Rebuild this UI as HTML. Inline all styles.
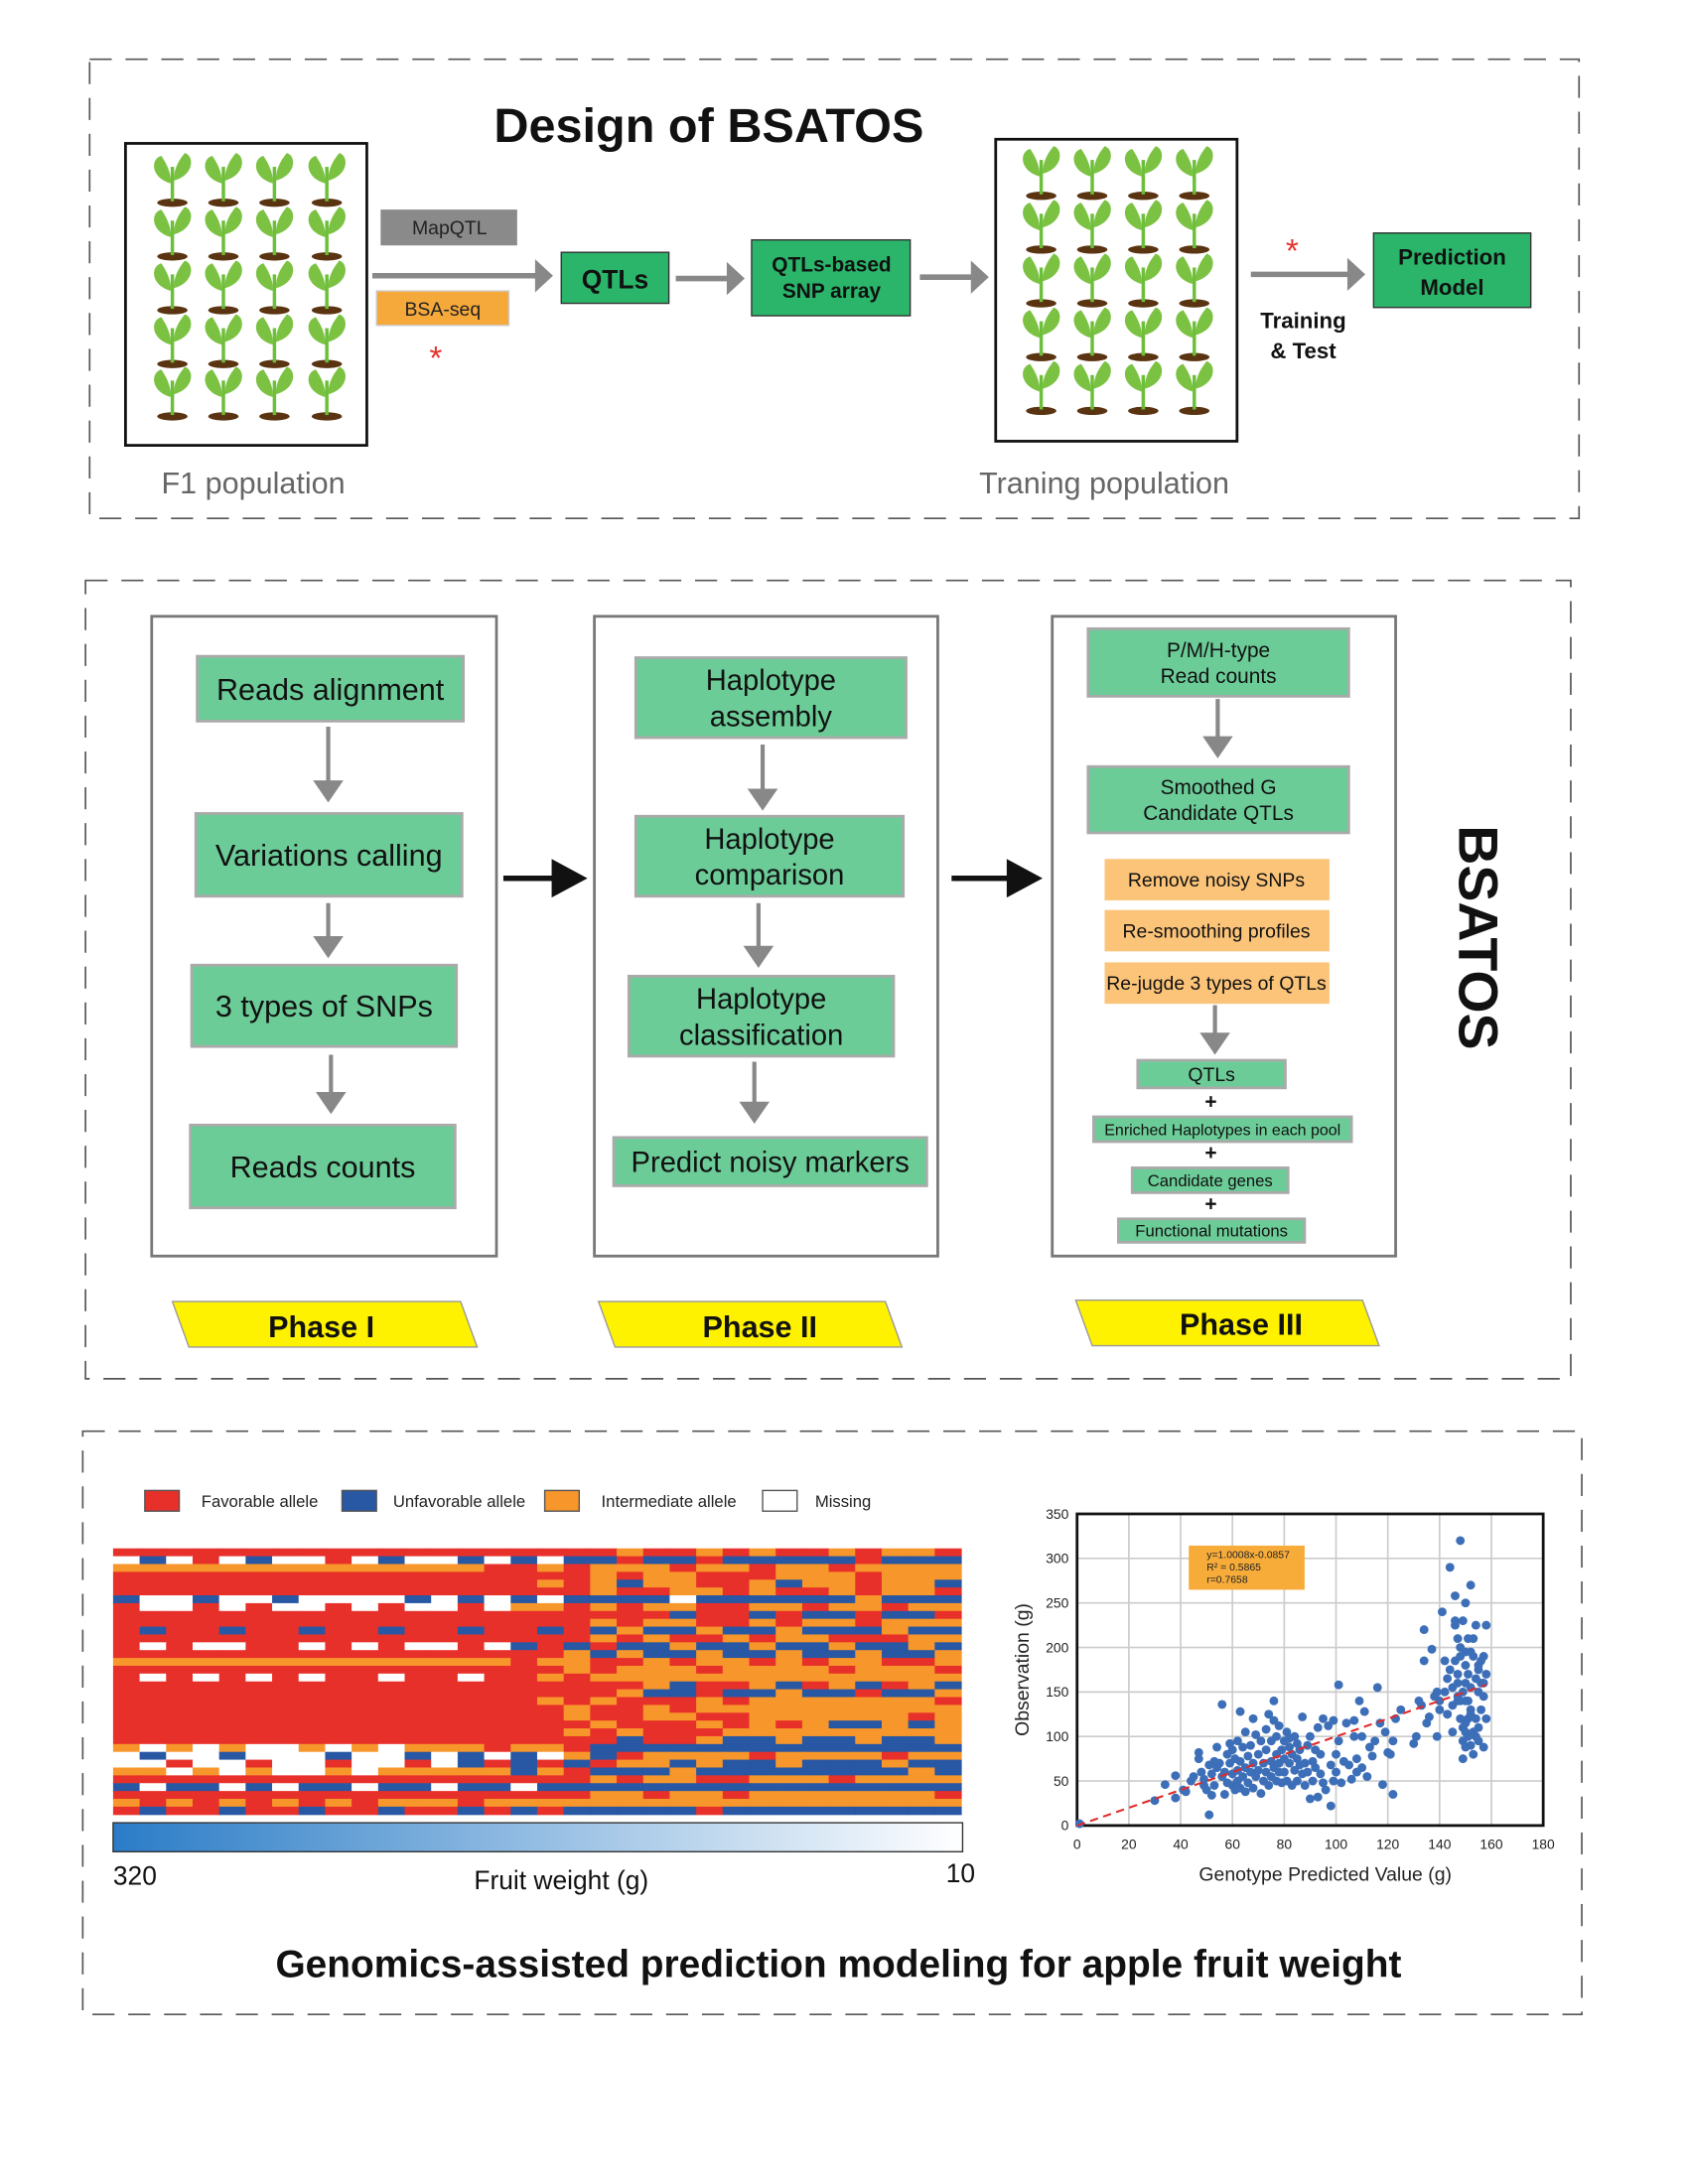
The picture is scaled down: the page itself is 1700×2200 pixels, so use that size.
<!DOCTYPE html>
<html><head><meta charset="utf-8"><style>
html,body{margin:0;padding:0;background:#fff;}
svg{display:block;font-family:"Liberation Sans",Arial,sans-serif;}
</style></head><body>
<svg id="root" width="1700" height="2200" viewBox="0 0 1224 1584" preserveAspectRatio="none">
<rect width="1224" height="1584" fill="#fff"/>
<g id="top">
<rect x="65" y="43" width="1080" height="333" fill="none" stroke="#555" stroke-width="1.2" stroke-dasharray="16,10"/>
<text x="514" y="103" text-anchor="middle" font-size="35" font-weight="bold" fill="#111">Design of BSATOS</text>
<rect x="91" y="104" width="175" height="219" fill="#fff" stroke="#111" stroke-width="2"/>
<rect x="722" y="101" width="175" height="219" fill="#fff" stroke="#111" stroke-width="2"/>
<g id="plants"></g>
<text x="117" y="358" font-size="22" fill="#666">F1 population</text>
<text x="710" y="358" font-size="22" fill="#666">Traning population</text>
<rect x="276" y="152" width="99" height="26" fill="#8a8a8a"/>
<text x="326" y="170" text-anchor="middle" font-size="14" fill="#222">MapQTL</text>
<rect x="273" y="211" width="96" height="25" fill="#f6a93b" stroke="#ccc"/>
<text x="321" y="229" text-anchor="middle" font-size="14" fill="#222">BSA-seq</text>
<text x="316" y="268" text-anchor="middle" font-size="24" fill="#e8302a">*</text>
<g fill="#888" stroke="#888">
<line x1="270" y1="200" x2="392" y2="200" stroke-width="4"/><polygon points="388,188 401,200 388,212" stroke="none"/>
<line x1="490" y1="202" x2="530" y2="202" stroke-width="4"/><polygon points="527,190 540,202 527,214" stroke="none"/>
<line x1="667" y1="201" x2="707" y2="201" stroke-width="4"/><polygon points="704,189 717,201 704,213" stroke="none"/>
<line x1="907" y1="199" x2="980" y2="199" stroke-width="4"/><polygon points="977,187 990,199 977,211" stroke="none"/>
</g>
<rect x="407" y="183" width="78" height="37" fill="#2ab56a" stroke="#333"/>
<text x="446" y="209" text-anchor="middle" font-size="19" font-weight="bold" fill="#111">QTLs</text>
<rect x="545" y="174" width="115" height="55" fill="#2ab56a" stroke="#333"/>
<text x="603" y="197" text-anchor="middle" font-size="15" font-weight="bold" fill="#111">QTLs-based</text>
<text x="603" y="216" text-anchor="middle" font-size="15" font-weight="bold" fill="#111">SNP array</text>
<text x="937" y="190" text-anchor="middle" font-size="24" fill="#e8302a">*</text>
<rect x="996" y="169" width="114" height="54" fill="#2ab56a" stroke="#333"/>
<text x="1053" y="192" text-anchor="middle" font-size="16" font-weight="bold" fill="#111">Prediction</text>
<text x="1053" y="214" text-anchor="middle" font-size="16" font-weight="bold" fill="#111">Model</text>
<text x="945" y="238" text-anchor="middle" font-size="16" font-weight="bold" fill="#111">Training</text>
<text x="945" y="260" text-anchor="middle" font-size="16" font-weight="bold" fill="#111">&amp; Test</text>
</g>

<g id="mid">
<rect x="62" y="421" width="1077" height="579" fill="none" stroke="#555" stroke-width="1.2" stroke-dasharray="16,10"/>
<rect x="110" y="447" width="250" height="464" fill="none" stroke="#777" stroke-width="2"/>
<rect x="431" y="447" width="249" height="464" fill="none" stroke="#777" stroke-width="2"/>
<rect x="763" y="447" width="249" height="464" fill="none" stroke="#777" stroke-width="2"/>
<g id="midboxes"></g>
<g fill="#111">
<line x1="365" y1="637" x2="410" y2="637" stroke="#111" stroke-width="4"/><polygon points="400,623 426,637 400,651"/>
<line x1="690" y1="637" x2="740" y2="637" stroke="#111" stroke-width="4"/><polygon points="730,623 756,637 730,651"/>
</g>
<text transform="translate(1058,680) rotate(90)" text-anchor="middle" font-size="40" font-weight="bold" fill="#111">BSATOS</text>
<polygon points="125,944 334,944 346,977 137,977" fill="#fff200" stroke="#999"/>
<text x="233" y="970" text-anchor="middle" font-size="22" font-weight="bold" fill="#111">Phase I</text>
<polygon points="434,944 642,944 654,977 446,977" fill="#fff200" stroke="#999"/>
<text x="551" y="970" text-anchor="middle" font-size="22" font-weight="bold" fill="#111">Phase II</text>
<polygon points="780,943 988,943 1000,976 792,976" fill="#fff200" stroke="#999"/>
<text x="900" y="968" text-anchor="middle" font-size="22" font-weight="bold" fill="#111">Phase III</text>
</g>

<g id="bot">
<rect x="60" y="1038" width="1087" height="423" fill="none" stroke="#555" stroke-width="1.2" stroke-dasharray="16,10"/>
<g font-size="12" fill="#222">
<rect x="105" y="1081" width="25" height="15" fill="#e8302a" stroke="#555"/>
<text x="146" y="1093">Favorable allele</text>
<rect x="248" y="1081" width="25" height="15" fill="#2857a4" stroke="#555"/>
<text x="285" y="1093">Unfavorable allele</text>
<rect x="395" y="1081" width="25" height="15" fill="#f7962a" stroke="#555"/>
<text x="436" y="1093">Intermediate allele</text>
<rect x="553" y="1081" width="25" height="15" fill="#fff" stroke="#555"/>
<text x="591" y="1093">Missing</text>
</g>
<g id="heat"></g>
<defs><linearGradient id="fw" x1="0" x2="1"><stop offset="0" stop-color="#2a7cc7"/><stop offset="1" stop-color="#fff"/></linearGradient></defs>
<rect x="82" y="1322" width="616" height="21" fill="url(#fw)" stroke="#333"/>
<text x="82" y="1367" font-size="19" fill="#111">320</text>
<text x="407" y="1370" text-anchor="middle" font-size="19" fill="#111">Fruit weight (g)</text>
<text x="686" y="1365" font-size="19" fill="#111">10</text>
<g id="scatter"></g>
<text x="608" y="1434" text-anchor="middle" font-size="28" font-weight="bold" fill="#111">Genomics-assisted prediction modeling for apple fruit weight</text>
</g>
</svg>
<script>
// ---- scatter data ----
const xTicks=[0,20,40,60,80,100,120,140,160,180];
const yTicks=[0,50,100,150,200,250,300,350];
const obsX=[1,30,34,38,38,41,42,44,45,47,47,48,49,49,50,51,51,52,52,53,53,54,54,55,56,56,57,57,58,58,59,59,60,60,60,61,61,62,62,62,63,63,63,64,64,65,65,65,66,66,67,67,68,68,68,69,69,70,70,71,71,72,72,73,73,73,74,74,75,75,75,76,76,76,77,77,77,78,78,78,79,79,80,80,80,81,81,82,82,82,83,83,84,84,85,85,85,86,86,87,87,88,88,89,89,90,90,91,91,92,92,93,93,94,94,95,95,96,97,98,98,99,99,100,100,101,101,102,103,104,105,106,107,107,108,108,109,110,110,111,112,113,114,115,116,117,118,119,120,121,122,122,123,125,130,131,132,134,134,135,136,137,138,139,140,140,141,142,142,143,143,144,144,145,145,146,146,146,147,147,147,147,148,148,148,148,148,149,149,149,149,149,150,150,150,150,150,150,151,151,151,151,151,152,152,152,152,152,153,153,153,153,154,154,154,154,155,155,155,155,156,156,156,157,157,157,158,158,158,147,152,143,146,145,150,139,150,133,155,157];
const obsY=[2,28,46,31,56,40,38,50,55,82,75,60,52,45,40,12,68,58,34,72,45,88,65,70,55,136,35,60,80,48,70,92,58,45,85,75,40,62,50,95,128,72,42,88,55,65,105,38,78,48,90,60,120,70,42,102,55,80,62,95,36,70,50,85,60,108,125,45,72,95,55,118,65,140,80,50,100,70,112,60,85,48,75,95,60,105,50,88,70,98,80,45,62,100,75,50,92,68,85,58,122,70,45,90,60,30,100,72,50,85,65,32,110,58,80,48,120,40,112,68,22,118,50,80,60,95,158,48,72,115,68,52,100,118,75,60,140,65,100,128,55,88,78,95,155,115,46,105,82,80,95,35,120,130,92,100,140,185,220,115,122,198,145,150,140,130,240,185,150,165,125,175,290,105,135,185,258,225,145,170,210,160,320,190,140,120,200,95,75,230,150,110,180,88,160,140,195,250,120,100,210,170,140,125,90,270,155,130,105,190,80,210,165,120,100,225,150,175,110,95,185,130,160,190,145,88,225,170,120,140,195,125,230,155,105,100,115,135,180,160,205,165,110,145,175];
const sx=v=>781+v/180*338, sy=v=>1324-v/350*226;
// ---- heatmap data ----
const heatRows=[
"rrrrrrrrrrrrrrrrrrrorrororroroor","wbwrwbwwrwbwwbwbwbbrbbrbbbbbrbbb","oooooooooooooorroroooroorooroooo",
"rrrrrrrrrrrrrrrrrroroorrrooorooo","rrrrrrrrrrrrrrrroroboorrobooroob","rrrrrrrrrrrrrrrrrrorroororroroor",
"bwwbwwbwwwwbwbwbwbbbbwbbbbbbobbb","rwwrwrwwrwrwwrwoororoorroorooroo","rrrrrrrrrrrrrrrrrrrrrbrrbrbbrbbr",
"rrrrrrrrrrrrrrrrrroroorroroorooo","rbrrbrrbrrbrrbrrbrbobbobbobbbobb","rrrrrrrrrrrrrrrrrrororroroorrroo",
"rwrwwrrwrwrwwrwbrbrbbobbobbobbob","rrrrrrrrrrrrrrrrrobobbobbobbobbo","oooooooooooooooroorroroororoorro",
"rrrrrrrrrrrrrrrrroroooroooorooor","rwrwrwrwrrwrrwrroroooooooooooooo","rrrrrrrrrrrrrrrrrrrrobrrobrobrob",
"rrrrrrrrrrrrrrrrrrrobbrbbobbrbbo","rrrrrrrrrrrrrrrrororrrorooooooor","rrrrrrrrrrrrrrrrrorroroooooooooo",
"rrrrrrrrrrrrrrrrrorroorrooooooro","rrrrrrrrrrrrrrrrrrorrrororobbobo","rrrrrrrrrrrrrrrrrororrrooooooooo",
"rrrrrrrrrrrrrrrrrrrbrrobbobbobbo","owowowwowowoooroorbbbbbbbbbbbbbb","wbwwbwwwbwwbwbwbwobroooorooooroo",
"wwrwwrwwrwwrwbrbrbroobobbobbbobb","oowowowwowoooooborbbbobbbbbbbbob","rrrrrrrrrrrrrrrrrroroorroooroooo",
"bwbbwbwbbwbbwbbwbbbbbbbbbbbbbbbb","rrrrrrrrrrrrrrrrrrooroorooooooor","orororororoooroooooooooooooooooo",
"rbrrbrrbrrbrrbrbrbbbbbrbbbbbbbbb"];
const heatColors={r:"#e8302a",b:"#2857a4",o:"#f7962a",w:"#ffffff"};
const NS="http://www.w3.org/2000/svg";
function mk(tag,attrs,parent){const e=document.createElementNS(NS,tag);for(const k in attrs)e.setAttribute(k,attrs[k]);parent.appendChild(e);return e;}

// plants
const plants=document.getElementById('plants');
function plant(x,y){
  const g=mk('g',{},plants);
  
  
  mk('ellipse',{cx:x,cy:y,rx:11,ry:3,fill:'#5a3311'},g);
  mk('line',{x1:x,y1:y-1,x2:x,y2:y-26,stroke:'#6cbf3a','stroke-width':2.5},g);
  mk('path',{d:`M${x-1},${y-14} C${x-16},${y-18} ${x-16},${y-32} ${x-8},${y-34} C${x-4},${y-28} ${x-1},${y-22} ${x-1},${y-14}Z`,fill:'#7cc242'},g);
  mk('path',{d:`M${x+1},${y-16} C${x+16},${y-20} ${x+16},${y-34} ${x+9},${y-36} C${x+4},${y-30} ${x+1},${y-24} ${x+1},${y-16}Z`,fill:'#7cc242'},g);
}
[125,162,199,237].forEach(x=>[147,186,225,264,302].forEach(y=>plant(x,y)));
[755,792,829,866].forEach(x=>[142,181,220,259,298].forEach(y=>plant(x,y)));

// pipeline boxes
const mb=document.getElementById('midboxes');
const greenBoxes=[
 [143,476,193,47,["Reads alignment"],22],[142,590,193,60,["Variations calling"],22],[139,700,192,59,["3 types of SNPs"],22],[138,816,192,60,["Reads counts"],22],
 [461,477,196,58,["Haplotype","assembly"],21],[461,592,194,58,["Haplotype","comparison"],21],[456,708,192,58,["Haplotype","classification"],21],[445,825,227,35,["Predict noisy markers"],21],
 [789,456,189,49,["P/M/H-type","Read counts"],15],[789,556,189,48,["Smoothed G","Candidate QTLs"],15],
 [825,769,107,20,["QTLs"],14],[793,810,187,18,["Enriched Haplotypes in each pool"],11.5],[821,847,113,18,["Candidate genes"],12],[811,884,135,17,["Functional mutations"],12]];
greenBoxes.forEach(b=>{
  const r=mk('rect',{x:b[0],y:b[1],width:b[2],height:b[3],fill:'#6ccc98',stroke:'#aaa','stroke-width':2},mb);
  
  
  const n=b[4].length, lh=b[5]*1.25, cy=b[1]+b[3]/2;
  b[4].forEach((t,i)=>{const tx=mk('text',{x:b[0]+b[2]/2,y:cy+(i-(n-1)/2)*lh+b[5]*0.36,'text-anchor':'middle','font-size':b[5],fill:'#111'},mb);tx.textContent=t;
    
    });
});
[[801,623,"Remove noisy SNPs"],[801,660,"Re-smoothing profiles"],[801,698,"Re-jugde 3 types of QTLs"]].forEach(b=>{
  const r=mk('rect',{x:b[0],y:b[1],width:163,height:30,fill:'#fbc479'},mb);
  
  
  const t=mk('text',{x:b[0]+81,y:b[1]+20,'text-anchor':'middle','font-size':14,fill:'#111'},mb);t.textContent=b[2];
  
  
});
[[238,527,582],[238,655,695],[240,765,808],[553,540,588],[550,655,702],[547,770,815],[883,507,550],[881,729,765]].forEach(a=>{
  const g=mk('g',{},mb);
  
  
  mk('line',{x1:a[0],y1:a[1],x2:a[0],y2:a[2]-10,stroke:'#888','stroke-width':3},g);
  mk('polygon',{points:`${a[0]-11},${a[2]-16} ${a[0]+11},${a[2]-16} ${a[0]},${a[2]}`,fill:'#888'},g);
});
[799,836,873].forEach(y=>{const t=mk('text',{x:878,y:y+5,'text-anchor':'middle','font-size':15,'font-weight':'bold',fill:'#111'},mb);t.textContent='+';
  
  });

// heatmap
const heat=document.getElementById('heat');
const hx=82,hy=1123,hw=615,hh=193,cols=heatRows[0].length,rows=heatRows.length;
heatRows.forEach((row,ri)=>{[...row].forEach((c,ci)=>{
  const r=mk('rect',{x:(hx+ci*hw/cols).toFixed(2),y:(hy+ri*hh/rows).toFixed(2),width:(hw/cols+0.4).toFixed(2),height:(hh/rows+0.4).toFixed(2),fill:heatColors[c]},heat);
  
  
});});

// scatter
const sc=document.getElementById('scatter');
yTicks.forEach(v=>{const l=mk('line',{x1:781,x2:1119,y1:sy(v),y2:sy(v),stroke:'#ccc','stroke-width':1.2},sc);
  
  const t=mk('text',{x:775,y:sy(v)+3.5,'text-anchor':'end','font-size':10,fill:'#222'},sc);t.textContent=v;
  });
xTicks.forEach(v=>{const l=mk('line',{x1:sx(v),x2:sx(v),y1:1098,y2:1324,stroke:'#ccc','stroke-width':1.2},sc);
  
  const t=mk('text',{x:sx(v),y:1341,'text-anchor':'middle','font-size':10,fill:'#222'},sc);t.textContent=v;
  });
const fr=mk('rect',{x:781,y:1098,width:338,height:226,fill:'none',stroke:'#111','stroke-width':2},sc);

obsX.forEach((x,i)=>{const c=mk('circle',{cx:sx(x),cy:sy(obsY[i]),r:3.2,fill:'#3d6fb8'},sc);
  });
const fit=mk('line',{x1:sx(0),y1:sy(-0.0857),x2:sx(158),y2:sy(158*1.0008-0.0857),stroke:'#e02b2b','stroke-width':1.5,'stroke-dasharray':'6,4'},sc);

const eb=mk('rect',{x:862,y:1121,width:84,height:32,fill:'#f7ac3a'},sc);

["y=1.0008x-0.0857","R² = 0.5865","r=0.7658"].forEach((s,i)=>{const t=mk('text',{x:875,y:1130+i*9,'font-size':7.5,fill:'#222'},sc);t.textContent=s;
  });
const yt=mk('text',{transform:'translate(746,1211) rotate(-90)','text-anchor':'middle','font-size':14,fill:'#222'},sc);yt.textContent='Observation (g)';

const xt=mk('text',{x:961,y:1364,'text-anchor':'middle','font-size':14,fill:'#222'},sc);xt.textContent='Genotype Predicted Value (g)';

</script>
</body></html>
